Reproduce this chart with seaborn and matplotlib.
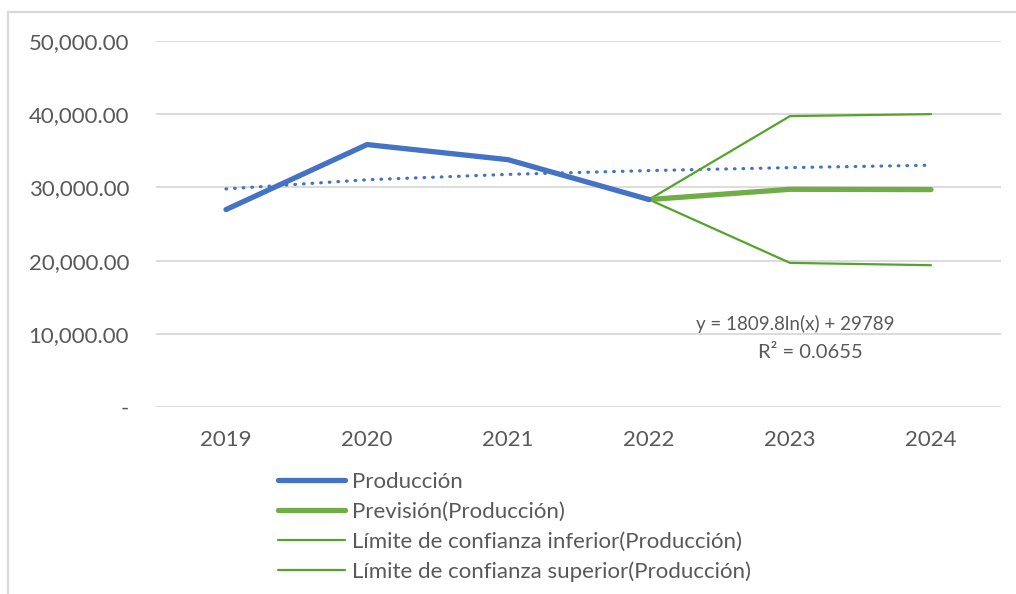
import matplotlib
matplotlib.use("Agg")
import matplotlib.pyplot as plt
from matplotlib.patches import Rectangle
from matplotlib.ticker import FuncFormatter
import seaborn as sns
import pandas as pd
import numpy as np

# Production series and forecast with confidence limits
years = ["2019", "2020", "2021", "2022", "2023", "2024"]
produccion = [26970, 35850, 33790, 28340]
prevision = [28340, 29740, 29700]
limite_inferior = [28340, 19690, 19370]
limite_superior = [28340, 39740, 40010]

# Logarithmic trend line coefficients: y = a*ln(x) + b
trend_a = 1809.8
trend_b = 29789
trend_r2 = 0.0655

sns.set_theme(style="white")
plt.rcParams["font.family"] = ["Lato", "DejaVu Sans"]

text_color = "#595959"
blue = "#4472C4"
green = "#70AD47"
green_dark = "#56A32C"
grid_color = "#D9D9D9"
fs = 16

fig = plt.figure(figsize=(10.16, 5.94), dpi=100)
ax = fig.add_axes([155.5 / 1016, 1 - 407 / 594, 846 / 1016, 366 / 594])

idx = list(range(len(years)))
df_prod = pd.DataFrame({"x": idx[:4], "y": produccion})
df_prev = pd.DataFrame({"x": idx[3:], "y": prevision})
df_inf = pd.DataFrame({"x": idx[3:], "y": limite_inferior})
df_sup = pd.DataFrame({"x": idx[3:], "y": limite_superior})
trend_x = np.array(idx)
df_trend = pd.DataFrame({"x": trend_x, "y": trend_a * np.log(trend_x + 1) + trend_b})

sns.lineplot(data=df_trend, x="x", y="y", ax=ax, color=blue, lw=2.3,
             dashes=False, zorder=3, legend=False,
             linestyle=(0, (0.2, 2.5)), dash_capstyle="round")
sns.lineplot(data=df_sup, x="x", y="y", ax=ax, color=green_dark, lw=1.6,
             label="Límite de confianza superior(Producción)", zorder=4)
sns.lineplot(data=df_inf, x="x", y="y", ax=ax, color=green_dark, lw=1.6,
             label="Límite de confianza inferior(Producción)", zorder=4)
sns.lineplot(data=df_prev, x="x", y="y", ax=ax, color=green, lw=3.8,
             label="Previsión(Producción)", zorder=5, solid_capstyle="round")
sns.lineplot(data=df_prod, x="x", y="y", ax=ax, color=blue, lw=3.8,
             label="Producción", zorder=6, solid_capstyle="round")

ax.set_xlim(-0.5, 5.5)
ax.set_ylim(0, 50000)
ax.set_yticks(range(0, 50001, 10000))
ax.yaxis.set_major_formatter(FuncFormatter(lambda v, p: "-" if v == 0 else f"{v:,.2f}"))
ax.set_xticks(idx)
ax.set_xticklabels(years)
ax.set_xlabel("")
ax.set_ylabel("")
ax.grid(axis="y", color=grid_color, lw=1.3)
ax.set_axisbelow(True)
for s in ax.spines.values():
    s.set_visible(False)
ax.tick_params(axis="y", length=0, pad=19, labelsize=fs, labelcolor=text_color)
ax.tick_params(axis="x", length=0, pad=16.3, labelsize=fs, labelcolor=text_color)

# Trend equation
ax.text(4.035, 11300, f"y = {trend_a}ln(x) + {trend_b}", ha="center", va="center",
        fontsize=13.5, color=text_color)
ax.text(4.142, 7500, f"R² = {trend_r2}", ha="center", va="center",
        fontsize=14.5, color=text_color)

# Legend below the plot
handles, labels = ax.get_legend_handles_labels()
order = ["Producción", "Previsión(Producción)",
         "Límite de confianza inferior(Producción)",
         "Límite de confianza superior(Producción)"]
hmap = dict(zip(labels, handles))
if ax.legend_:
    ax.legend_.remove()
leg = fig.legend([hmap[l] for l in order], order, loc="upper left",
                 bbox_to_anchor=(278 / 1016, 1 - 471.5 / 594), frameon=False,
                 fontsize=fs, handlelength=3.0, handletextpad=0.32,
                 labelspacing=0.45, borderpad=0, borderaxespad=0)
for t in leg.get_texts():
    t.set_color(text_color)

# Chart area border
fig.patches.append(Rectangle((7.5 / 1016, -0.1), 1.2, 1 - 12 / 594 + 0.1,
                             transform=fig.transFigure, fill=False,
                             edgecolor=grid_color, lw=1.6))

fig.savefig("out.png", dpi=100)
